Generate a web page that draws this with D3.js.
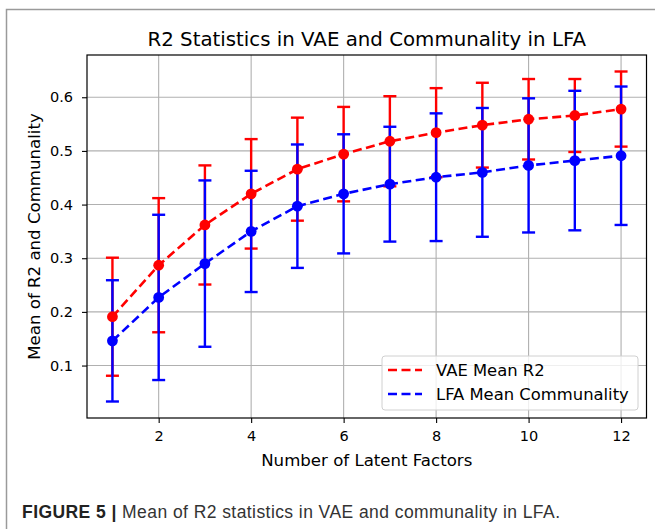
<!DOCTYPE html>
<html>
<head>
<meta charset="utf-8">
<script src="https://cdn.jsdelivr.net/npm/d3@7"></script>
<style>
  body { margin: 0; background: #fff; }
  svg { display: block; font-family: "DejaVu Sans", sans-serif; }
</style>
</head>
<body>
<svg width="655" height="529"></svg>
<script>
// data
var factors = [1, 2, 3, 4, 5, 6, 7, 8, 9, 10, 11, 12];
var vaeMean = [0.191, 0.287, 0.362, 0.420, 0.466, 0.494, 0.518, 0.534, 0.548, 0.559, 0.566, 0.578];
var vaeErr  = [0.110, 0.125, 0.111, 0.102, 0.096, 0.088, 0.084, 0.083, 0.079, 0.075, 0.068, 0.070];
var lfaMean = [0.146, 0.227, 0.290, 0.350, 0.397, 0.420, 0.438, 0.451, 0.460, 0.473, 0.482, 0.491];
var lfaErr  = [0.113, 0.154, 0.155, 0.113, 0.115, 0.111, 0.107, 0.119, 0.120, 0.125, 0.130, 0.129];
var xTicks = [2, 4, 6, 8, 10, 12];
var yTicks = [0.1, 0.2, 0.3, 0.4, 0.5, 0.6];

var svg = d3.select("svg");
var plot = { left: 87, right: 646.5, top: 55, bottom: 418 };

// outer figure border (cropped at right/bottom)
svg.append("rect")
  .attr("x", 6.5).attr("y", 9.5)
  .attr("width", 660).attr("height", 540)
  .attr("fill", "none").attr("stroke", "#9a9a9a").attr("stroke-width", 1.5);

var series = [
  { name: "VAE Mean R2", color: "#ff0000", mean: vaeMean, err: vaeErr },
  { name: "LFA Mean Communality", color: "#0000ff", mean: lfaMean, err: lfaErr }
];

// matplotlib-like autoscale with 5% margins
var lo = d3.min(series, s => d3.min(s.mean, (m, i) => m - s.err[i]));
var hi = d3.max(series, s => d3.max(s.mean, (m, i) => m + s.err[i]));
var pad = (hi - lo) * 0.05;
var xpad = (d3.max(factors) - d3.min(factors)) * 0.05;

var x = d3.scaleLinear()
  .domain([d3.min(factors) - xpad, d3.max(factors) + xpad])
  .range([plot.left, plot.right]);
var y = d3.scaleLinear()
  .domain([lo - pad, hi + pad])
  .range([plot.bottom, plot.top]);

// grid
var grid = svg.append("g").attr("stroke", "#b0b0b0").attr("stroke-width", 1.1);
grid.selectAll(".gx").data(xTicks).enter().append("line")
  .attr("x1", d => x(d)).attr("x2", d => x(d))
  .attr("y1", plot.top).attr("y2", plot.bottom);
grid.selectAll(".gy").data(yTicks).enter().append("line")
  .attr("x1", plot.left).attr("x2", plot.right)
  .attr("y1", d => y(d)).attr("y2", d => y(d));

// axes
var xAxis = svg.append("g")
  .attr("transform", "translate(0," + plot.bottom + ")")
  .call(d3.axisBottom(x).tickValues(xTicks).tickSize(5).tickPadding(8).tickFormat(d3.format("d")));
var yAxis = svg.append("g")
  .attr("transform", "translate(" + plot.left + ",0)")
  .call(d3.axisLeft(y).tickValues(yTicks).tickSize(5).tickPadding(9).tickFormat(d3.format(".1f")));
[xAxis, yAxis].forEach(function (a) {
  a.select(".domain").remove();
  a.selectAll("line").attr("stroke", "#000").attr("stroke-width", 1.1);
  a.selectAll("text").attr("font-family", "DejaVu Sans").attr("font-size", 14.5).attr("fill", "#000");
});

// frame
svg.append("rect")
  .attr("x", plot.left).attr("y", plot.top)
  .attr("width", plot.right - plot.left).attr("height", plot.bottom - plot.top)
  .attr("fill", "none").attr("stroke", "#000").attr("stroke-width", 1.2);

// error bars first
var capW = 6.5;
series.forEach(function (s) {
  var g = svg.append("g").attr("stroke", s.color).attr("stroke-width", 2.4);
  var bars = g.selectAll("g").data(factors).enter().append("g");
  bars.append("line")
    .attr("x1", d => x(d)).attr("x2", d => x(d))
    .attr("y1", (d, i) => y(s.mean[i] - s.err[i]))
    .attr("y2", (d, i) => y(s.mean[i] + s.err[i]));
  bars.append("line")
    .attr("x1", d => x(d) - capW).attr("x2", d => x(d) + capW)
    .attr("y1", (d, i) => y(s.mean[i] + s.err[i]))
    .attr("y2", (d, i) => y(s.mean[i] + s.err[i]));
  bars.append("line")
    .attr("x1", d => x(d) - capW).attr("x2", d => x(d) + capW)
    .attr("y1", (d, i) => y(s.mean[i] - s.err[i]))
    .attr("y2", (d, i) => y(s.mean[i] - s.err[i]));
});

// dashed lines and markers
var line = d3.line().x(d => x(d[0])).y(d => y(d[1]));
series.forEach(function (s) {
  var pts = factors.map((f, i) => [f, s.mean[i]]);
  svg.append("path")
    .attr("d", line(pts))
    .attr("fill", "none").attr("stroke", s.color)
    .attr("stroke-width", 2.6).attr("stroke-dasharray", "9,4.5");
  svg.append("g").selectAll("circle").data(pts).enter().append("circle")
    .attr("cx", d => x(d[0])).attr("cy", d => y(d[1]))
    .attr("r", 5.4).attr("fill", s.color);
});

// title and labels
svg.append("text")
  .attr("x", (plot.left + plot.right) / 2).attr("y", 46)
  .attr("text-anchor", "middle").attr("font-size", 19.8)
  .text("R2 Statistics in VAE and Communality in LFA");
svg.append("text")
  .attr("x", (plot.left + plot.right) / 2).attr("y", 466)
  .attr("text-anchor", "middle").attr("font-size", 16.6)
  .text("Number of Latent Factors");
svg.append("text")
  .attr("transform", "translate(39.5," + (plot.top + plot.bottom) / 2 + ") rotate(-90)")
  .attr("text-anchor", "middle").attr("font-size", 16.6)
  .text("Mean of R2 and Communality");

// legend
var legend = svg.append("g");
legend.append("rect")
  .attr("x", 382).attr("y", 356).attr("width", 256).attr("height", 54)
  .attr("rx", 3).attr("fill", "#fff").attr("fill-opacity", 0.8)
  .attr("stroke", "#d0d0d0").attr("stroke-width", 1);
var items = legend.selectAll(".item").data(series).enter().append("g")
  .attr("transform", (d, i) => "translate(388," + (370 + i * 24) + ")");
items.append("line")
  .attr("x1", 0).attr("x2", 34)
  .attr("stroke", d => d.color).attr("stroke-width", 2.6).attr("stroke-dasharray", "9,4.5");
items.append("text")
  .attr("x", 48).attr("y", 6).attr("font-size", 16.4)
  .text(d => d.name);

// caption
var cap = svg.append("text")
  .attr("x", 22).attr("y", 518)
  .attr("font-family", "'Liberation Sans Narrow', 'Liberation Sans', Arial, sans-serif")
  .attr("font-size", 17.5).attr("fill", "#222")
  .attr("textLength", 538);
cap.append("tspan").attr("font-weight", "bold").text("FIGURE 5 | ");
cap.append("tspan").attr("fill", "#333").text("Mean of R2 statistics in VAE and communality in LFA.");
</script>
</body>
</html>
